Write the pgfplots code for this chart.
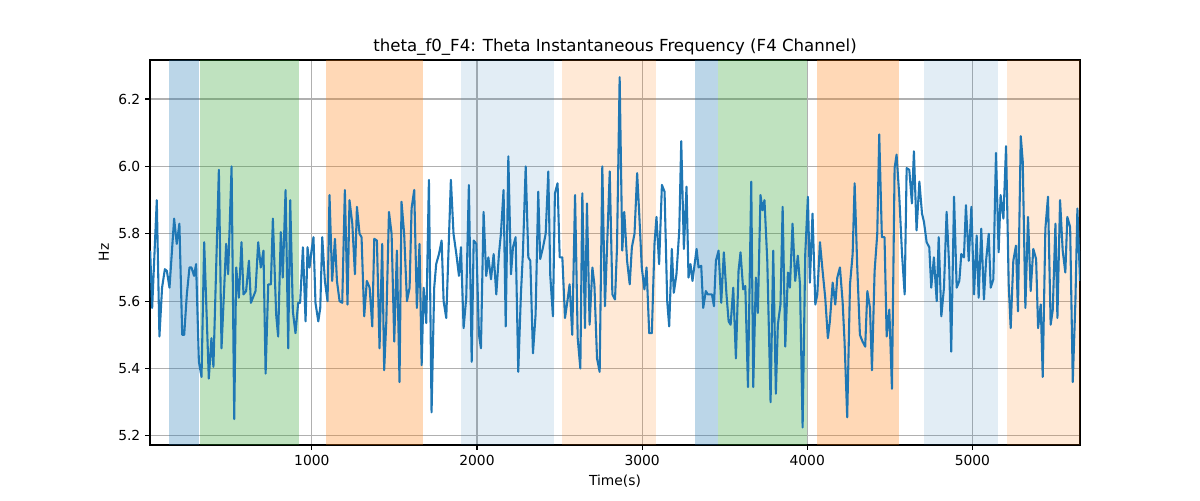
\documentclass[border=0pt]{standalone}
\usepackage{pgfplots}
\pgfplotsset{compat=1.18}
\usepackage{fontspec}
\setmainfont{DejaVu Sans}
\definecolor{tabblue}{HTML}{1F77B4}
\definecolor{tabgreen}{HTML}{2CA02C}
\definecolor{taborange}{HTML}{FF7F0E}
\pgfplotstableread{
t v
21 5.75
33 5.58
61 5.90
77 5.495
93 5.64
110 5.695
122 5.69
138 5.64
166 5.845
182 5.77
198 5.83
215 5.50
227 5.50
243 5.62
259 5.70
271 5.70
287 5.675
299 5.71
316 5.42
332 5.375
348 5.775
376 5.37
392 5.49
404 5.405
437 5.99
453 5.46
481 5.77
493 5.68
514 6.00
530 5.25
542 5.70
558 5.61
574 5.775
586 5.62
602 5.63
619 5.72
631 5.595
659 5.63
675 5.775
691 5.70
707 5.75
720 5.385
736 5.65
752 5.65
764 5.845
784 5.56
796 5.495
812 5.805
824 5.67
841 5.93
857 5.46
869 5.90
885 5.57
901 5.505
917 5.595
929 5.595
946 5.76
962 5.54
974 5.76
986 5.70
998 5.75
1010 5.79
1022 5.595
1039 5.54
1051 5.58
1063 5.79
1079 5.66
1095 5.60
1107 5.915
1123 5.66
1140 5.785
1152 5.66
1168 5.60
1184 5.595
1200 5.93
1216 5.59
1228 5.90
1245 5.83
1261 5.68
1273 5.88
1289 5.80
1301 5.79
1317 5.555
1333 5.66
1350 5.64
1366 5.525
1378 5.785
1394 5.78
1410 5.46
1426 5.77
1438 5.395
1451 5.54
1467 5.865
1483 5.80
1499 5.48
1515 5.75
1531 5.36
1543 5.895
1559 5.80
1576 5.60
1592 5.64
1604 5.875
1620 5.93
1636 5.58
1652 5.77
1665 5.41
1677 5.64
1693 5.535
1709 5.96
1725 5.27
1741 5.64
1753 5.71
1770 5.74
1786 5.78
1798 5.60
1814 5.55
1842 5.96
1858 5.80
1875 5.74
1891 5.675
1903 5.76
1919 5.52
1935 5.61
1951 5.945
1968 5.42
1980 5.78
1996 5.77
2012 5.50
2024 5.46
2040 5.865
2056 5.675
2069 5.73
2085 5.665
2101 5.74
2117 5.62
2133 5.74
2145 5.80
2161 5.93
2174 5.525
2190 6.03
2206 5.68
2218 5.76
2234 5.79
2250 5.39
2266 5.62
2278 5.74
2295 6.00
2311 5.73
2323 5.72
2339 5.445
2355 5.56
2371 5.925
2383 5.725
2400 5.76
2416 5.80
2432 5.985
2444 5.675
2460 5.555
2472 5.92
2488 5.95
2501 5.73
2517 5.73
2533 5.55
2549 5.605
2561 5.65
2577 5.50
2594 5.915
2610 5.49
2626 5.40
2638 5.92
2654 5.52
2666 5.89
2682 5.53
2699 5.70
2711 5.65
2727 5.43
2743 5.39
2759 6.00
2775 5.585
2804 5.985
2820 5.62
2836 5.605
2848 5.76
2864 6.265
2880 5.75
2892 5.865
2909 5.72
2925 5.65
2938 5.76
2954 5.80
2970 5.98
2982 5.865
2998 5.70
3014 5.635
3027 5.70
3043 5.505
3059 5.505
3075 5.77
3087 5.85
3103 5.71
3120 5.945
3136 5.925
3152 5.60
3164 5.525
3180 5.755
3192 5.625
3208 5.68
3225 5.81
3237 6.075
3253 5.755
3269 5.94
3281 5.67
3293 5.71
3305 5.66
3330 5.755
3342 5.70
3358 5.705
3370 5.58
3386 5.63
3398 5.62
3410 5.62
3423 5.62
3435 5.585
3447 5.72
3463 5.75
3479 5.595
3495 5.745
3511 5.62
3524 5.54
3536 5.53
3552 5.64
3568 5.43
3584 5.69
3596 5.745
3612 5.635
3625 5.645
3641 5.345
3661 5.955
3673 5.345
3689 5.67
3701 5.565
3717 5.915
3729 5.87
3741 5.90
3758 5.72
3778 5.30
3794 5.75
3810 5.325
3822 5.53
3838 5.59
3851 5.88
3867 5.465
3883 5.685
3895 5.64
3911 5.83
3927 5.66
3943 5.735
3956 5.65
3972 5.225
3988 5.74
4004 5.91
4016 5.655
4032 5.86
4049 5.59
4061 5.62
4077 5.775
4093 5.69
4109 5.61
4125 5.49
4137 5.54
4154 5.655
4170 5.59
4182 5.67
4198 5.70
4214 5.60
4226 5.48
4242 5.255
4259 5.65
4275 5.74
4287 5.95
4303 5.70
4319 5.50
4335 5.48
4351 5.465
4364 5.63
4380 5.58
4392 5.395
4408 5.69
4424 5.80
4436 6.095
4452 5.79
4468 5.79
4481 5.495
4497 5.575
4513 5.34
4529 5.995
4541 6.035
4557 5.915
4574 5.74
4590 5.62
4602 5.995
4618 5.99
4634 5.89
4646 6.045
4662 5.81
4679 5.955
4695 5.86
4707 5.835
4723 5.775
4739 5.76
4751 5.64
4767 5.73
4784 5.60
4796 5.79
4812 5.555
4828 5.64
4844 5.865
4860 5.70
4872 5.45
4889 5.91
4905 5.64
4921 5.66
4933 5.74
4949 5.73
4961 5.885
4978 5.72
4994 5.88
5010 5.62
5026 5.795
5038 5.61
5054 5.815
5070 5.605
5083 5.72
5099 5.80
5111 5.64
5127 5.665
5143 6.04
5159 5.745
5171 5.915
5188 5.845
5204 6.06
5220 5.65
5232 5.52
5248 5.72
5264 5.765
5276 5.57
5293 6.09
5305 6.015
5321 5.58
5337 5.85
5353 5.63
5369 5.755
5386 5.725
5398 5.52
5414 5.59
5426 5.375
5442 5.815
5458 5.91
5474 5.53
5487 5.575
5503 5.83
5515 5.55
5531 5.90
5547 5.75
5563 5.685
5575 5.85
5592 5.82
5608 5.36
5624 5.60
5636 5.875
5652 5.66
}\datatable
\begin{document}
\begin{tikzpicture}
\begin{axis}[
 scale only axis, width=669.6bp, height=277.2bp,
 xmin=20, xmax=5652, ymin=5.173, ymax=6.316,
 xtick={1000,2000,3000,4000,5000},
 ytick={5.2,5.4,5.6,5.8,6.0,6.2},
 yticklabel style={/pgf/number format/.cd, fixed, fixed zerofill, precision=1},
 xticklabel style={/pgf/number format/.cd, 1000 sep={}},
 scaled x ticks=false,
 /pgf/number format/assume math mode=true,
 grid=major, major grid style={color=black!31, line width=0.8bp},
 tick align=outside, tick pos=left, major tick length=3.5bp,
 tick style={black, line width=0.8bp},
 axis line style={line width=0.8bp},
 ticklabel style={font=\fontsize{10}{12}\selectfont},
 title={theta\_f0\_F4: Theta Instantaneous Frequency (F4 Channel)},
 title style={font=\fontsize{12}{14}\selectfont, yshift=-6.5bp},
 xlabel={Time(s)}, ylabel={Hz},
 label style={font=\fontsize{10}{12}\selectfont},
]
\fill[tabblue, fill opacity=0.3] (axis cs:138,5.173) rectangle (axis cs:316,6.316);
\fill[tabgreen, fill opacity=0.3] (axis cs:322,5.173) rectangle (axis cs:925,6.316);
\fill[taborange, fill opacity=0.3] (axis cs:1083,5.173) rectangle (axis cs:1675,6.316);
\fill[tabblue, fill opacity=0.13] (axis cs:1901,5.173) rectangle (axis cs:2464,6.316);
\fill[taborange, fill opacity=0.17] (axis cs:2513,5.173) rectangle (axis cs:3087,6.316);
\fill[tabblue, fill opacity=0.3] (axis cs:3322,5.173) rectangle (axis cs:3461,6.316);
\fill[tabgreen, fill opacity=0.3] (axis cs:3461,5.173) rectangle (axis cs:4000,6.316);
\fill[taborange, fill opacity=0.3] (axis cs:4059,5.173) rectangle (axis cs:4553,6.316);
\fill[tabblue, fill opacity=0.13] (axis cs:4707,5.173) rectangle (axis cs:5153,6.316);
\fill[taborange, fill opacity=0.17] (axis cs:5210,5.173) rectangle (axis cs:5652,6.316);
\addplot[tabblue, line width=1.5bp, line join=round, no marks] table[x=t, y=v] {\datatable};
\coordinate (bb1) at (rel axis cs:-0.1613,-0.1429);
\coordinate (bb2) at (rel axis cs:1.1290,1.1558);
\end{axis}
\path[use as bounding box] (bb1) rectangle (bb2);
\end{tikzpicture}
\end{document}
